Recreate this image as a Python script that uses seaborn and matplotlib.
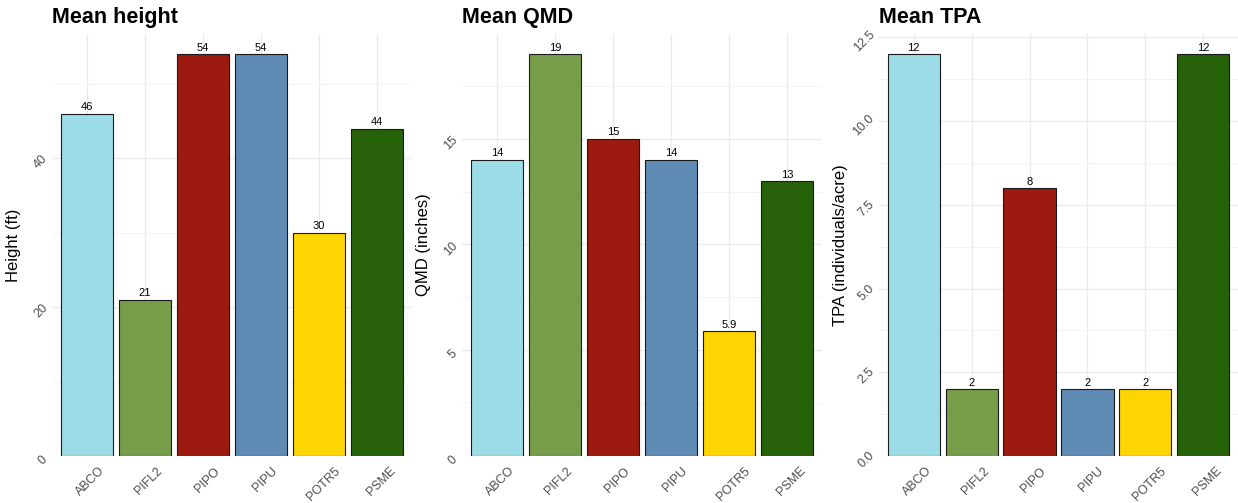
import pandas as pd
import numpy as np
import matplotlib
matplotlib.use("Agg")
import matplotlib.pyplot as plt
import matplotlib.transforms as mtransforms
import seaborn as sns

# Data
species = ["ABCO", "PIFL2", "PIPO", "PIPU", "POTR5", "PSME"]
mean_height = [46, 21, 54, 54, 30, 44]
mean_qmd = [14, 19, 15, 14, 5.9, 13]
mean_tpa = [12, 2, 8, 2, 2, 12]

colors = ["#9CDCE7", "#789D4A", "#9C1A0F", "#5E8AB4", "#FCD502", "#276109"]
palette = dict(zip(species, colors))

sns.set_theme(style="white")
plt.rcParams["font.family"] = ["Liberation Sans", "DejaVu Sans"]

fig = plt.figure(figsize=(12.38, 5.03), dpi=100)

panels = [
    ("Mean height", "Height (ft)", mean_height, [0, 20, 40], [10, 30, 50], "{:.0f}"),
    ("Mean QMD", "QMD (inches)", mean_qmd, [0, 5, 10, 15], [2.5, 7.5, 12.5, 17.5], "{:.0f}"),
    ("Mean TPA", "TPA (individuals/acre)", mean_tpa,
     [0, 2.5, 5, 7.5, 10, 12.5], [1.25, 3.75, 6.25, 8.75, 11.25], "{:.1f}"),
]
lefts = [52, 462, 879]
widths = [360, 360, 359]

for (title, ylab, vals, major, minor, tfmt), l, w in zip(panels, lefts, widths):
    ax = fig.add_axes([l / 1238, 1 - 456 / 503, w / 1238, (456 - 34) / 503])
    df = pd.DataFrame({"species": species, "value": vals})
    sns.barplot(data=df, x="species", y="value", hue="species", palette=palette,
                legend=False, width=0.9, edgecolor="#1a1a1a", linewidth=0.8,
                saturation=1, ax=ax, zorder=3)
    for c in ax.containers:
        ax.bar_label(c, labels=[f"{v:.2g}" for v in c.datavalues],
                     fontsize=8, padding=1, color="black")
    ax.set_xlim(-0.6, len(species) - 0.4)
    ax.set_ylim(0, max(vals) * 1.05)
    ax.set_yticks(major)
    ax.set_yticks(minor, minor=True)
    ax.set_yticklabels([tfmt.format(t) for t in major])
    ax.grid(True, which="major", color="#EBEBEB", linewidth=1.0, zorder=0)
    ax.grid(True, which="minor", axis="y", color="#F2F2F2", linewidth=0.6, zorder=0)
    for s in ax.spines.values():
        s.set_visible(False)
    ax.tick_params(axis="both", which="both", length=0, colors="#4D4D4D",
                   labelsize=9)
    ax.tick_params(axis="x", pad=6.5)
    ax.tick_params(axis="y", pad=1.5)
    shift = mtransforms.ScaledTranslation(4 / 100, 0, fig.dpi_scale_trans)
    for lab in ax.get_xticklabels():
        lab.set_rotation(45)
        lab.set_ha("center")
        lab.set_va("top")
        lab.set_transform(lab.get_transform() + shift)
    down = mtransforms.ScaledTranslation(0, -4 / 100, fig.dpi_scale_trans)
    for lab in ax.get_yticklabels():
        lab.set_rotation(45)
        lab.set_ha("right")
        lab.set_va("center")
        lab.set_transform(lab.get_transform() + down)
    ax.set_xlabel("")
    ax.set_ylabel(ylab, fontsize=12, color="black")
    ax.yaxis.set_label_coords(-31 / w, 0.5)
    ax.set_title(title, loc="left", fontsize=15.5, fontweight="bold",
                 color="black", pad=8)

fig.savefig("out.png", dpi=100, facecolor="white")
